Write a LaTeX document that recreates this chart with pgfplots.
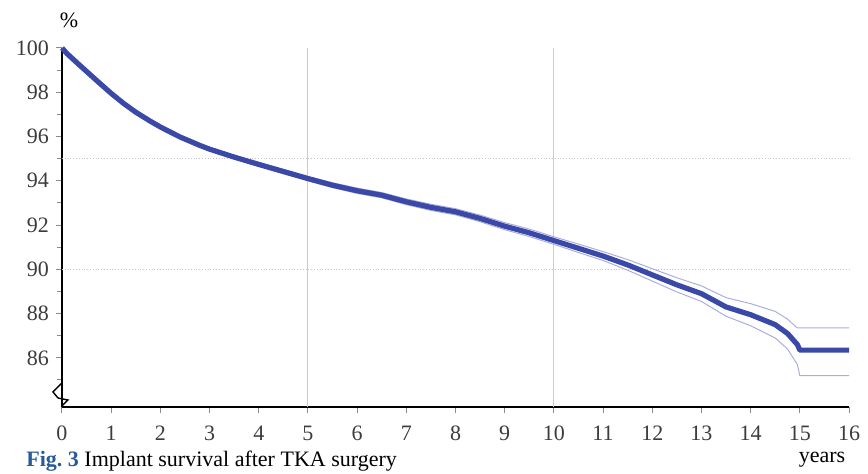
\documentclass[border=0pt]{standalone}
\usepackage{pgfplots}
\pgfplotsset{compat=1.18}
\usepackage{fontspec}
\setmainfont{Liberation Serif}
\definecolor{mainblue}{RGB}{58,72,168}
\definecolor{bandblue}{RGB}{170,174,222}
\definecolor{figblue}{RGB}{40,90,150}
\definecolor{tickgray}{RGB}{60,60,60}
\begin{document}
\begin{tikzpicture}
\useasboundingbox (0,0) rectangle (434pt,237pt);
\begin{axis}[
  at={(31pt,33.5pt)}, anchor=south west,
  scale only axis, width=393.5pt, height=179.5pt,
  xmin=0, xmax=16, ymin=83.78, ymax=100,
  axis lines=left, axis line style={-, line width=1pt, black},
  xtick={0,...,16}, ytick={86,88,...,100}, minor ytick={85,87,...,99},
  tick align=outside, major tick length=3pt, minor tick length=2.5pt,
  tick style={tickgray!60, line width=0.5pt},
  ticklabel style={font=\fontsize{11}{13}\selectfont, text=tickgray},
  /pgf/number format/assume math mode=true,
  xticklabel style={yshift=-3pt},
  clip=false,
]
\draw[gray!40, line width=0.5pt] (axis cs:5,83.78) -- (axis cs:5,100);
\draw[gray!40, line width=0.5pt] (axis cs:10,83.78) -- (axis cs:10,100);
\draw[gray!45, line width=0.4pt, densely dotted] (axis cs:0,95) -- (axis cs:16,95);
\draw[gray!45, line width=0.4pt, densely dotted] (axis cs:0,90) -- (axis cs:16,90);
% upper band
\addplot[bandblue, line width=0.5pt] coordinates {
(0,100) (0.1,99.78) (0.37,99.24) (0.77,98.45) (1.0,98.0) (1.25,97.56) (1.5,97.16) (1.79,96.76) (2.0,96.5) (2.4,96.05) (2.8,95.67) (3.0,95.51) (3.5,95.15) (4.0,94.83) (4.5,94.52) (5.0,94.2) (5.5,93.91) (6.0,93.67) (6.5,93.47) (7.0,93.18) (7.5,92.94) (8.0,92.74) (8.5,92.45) (9.0,92.11) (9.5,91.82) (10.0,91.47) (10.5,91.14) (11.0,90.8) (11.5,90.44) (12.0,90.03) (12.5,89.62) (13.0,89.25) (13.5,88.72) (14.0,88.45) (14.5,88.1) (14.75,87.75) (14.95,87.35) (16.0,87.35)};
% lower band
\addplot[bandblue, line width=0.5pt] coordinates {
(0,100) (0.1,99.72) (0.37,99.16) (0.77,98.35) (1.0,97.9) (1.25,97.44) (1.5,97.04) (1.79,96.64) (2.0,96.36) (2.4,95.91) (2.8,95.53) (3.0,95.35) (3.5,94.99) (4.0,94.65) (4.5,94.32) (5.0,94.0) (5.5,93.69) (6.0,93.43) (6.5,93.23) (7.0,92.92) (7.5,92.66) (8.0,92.46) (8.5,92.15) (9.0,91.79) (9.5,91.48) (10.0,91.13) (10.5,90.76) (11.0,90.4) (11.5,89.96) (12.0,89.47) (12.5,88.98) (13.0,88.55) (13.5,87.88) (14.0,87.45) (14.5,86.9) (14.75,86.4) (14.95,85.7) (15.0,85.2) (16.0,85.2)};
% main curve
\addplot[mainblue, line width=2.6pt, line join=round] coordinates {
(0,100) (0.1,99.75) (0.37,99.2) (0.77,98.4) (1.0,97.95) (1.25,97.5) (1.5,97.1) (1.79,96.7) (2.0,96.43) (2.4,95.98) (2.8,95.6) (3.0,95.43) (3.5,95.07) (4.0,94.74) (4.5,94.42) (5.0,94.1) (5.5,93.8) (6.0,93.55) (6.5,93.35) (7.0,93.05) (7.5,92.8) (8.0,92.6) (8.5,92.3) (9.0,91.95) (9.5,91.65) (10.0,91.3) (10.5,90.95) (11.0,90.6) (11.5,90.2) (12.0,89.75) (12.5,89.3) (13.0,88.9) (13.5,88.3) (14.0,87.95) (14.5,87.5) (14.75,87.1) (14.95,86.6) (15.0,86.35) (16.0,86.35)};
\end{axis}
\begin{scope}[shift={(0,237pt)}, x=0.5pt, y=-0.5pt]
\draw[black, line width=0.7pt] (62,383) -- (53,392) -- (58,398) -- (68,400) -- (62,406);
\node[font=\fontsize{11}{13}\selectfont] at (69,20) {\%};
\node[font=\fontsize{11}{13}\selectfont] at (822,460) {years};
\node[anchor=base west, font=\fontsize{11}{13}\selectfont, inner sep=0pt] at (26,467) {\textcolor{figblue}{\textbf{Fig.\ 3}} Implant survival after TKA surgery};
\end{scope}
\end{tikzpicture}
\end{document}
